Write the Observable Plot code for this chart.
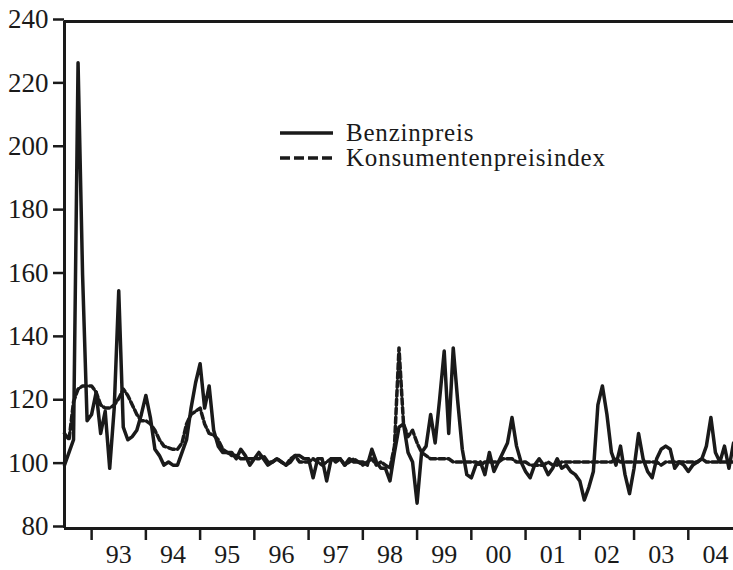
<!DOCTYPE html>
<html><head><meta charset="utf-8">
<script src="https://cdn.jsdelivr.net/npm/d3@7"></script>
<script src="https://cdn.jsdelivr.net/npm/@observablehq/plot@0.6"></script>
<style>
body{margin:0;background:#fff;}
#wrap{position:relative;width:733px;height:570px;font-family:"Liberation Serif",serif;color:#1a1a1a;}
#legend{position:absolute;left:0;top:0;pointer-events:none;}
</style></head><body><div id="wrap"></div>
<script>
// Monthly data from July 1992 to November 2004
const startYear = 1992, startMonth = 7;
const benzin = [
  100, 104, 108, 227, 160, 114,
  116, 123, 110, 117, 99, 118, 155, 112, 108, 109, 111, 116,
  122, 115, 105, 103, 100, 101, 100, 100, 104, 108, 118, 126,
  132, 118, 125, 111, 106, 104, 104, 104, 102, 105, 103, 100,
  102, 104, 102, 100, 101, 102, 101, 100, 101, 103, 103, 102,
  102, 96, 102, 102, 95, 102, 102, 102, 100, 102, 101, 101,
  101, 100, 105, 101, 99, 99, 95, 104, 112, 113, 104, 101,
  88, 104, 106, 116, 107, 121, 136, 110, 137, 120, 105, 97,
  96, 100, 101, 97, 104, 98, 101, 104, 107, 115, 106, 101,
  98, 96, 100, 102, 100, 97, 99, 102, 99, 100, 98, 97,
  95, 89, 93, 98, 119, 125, 116, 104, 100, 106, 97, 91,
  99, 110, 102, 98, 96, 102, 105, 106, 105, 99, 101, 100,
  98, 100, 101, 102, 106, 115, 104, 101, 106, 99, 107
];
const kpi = [
  110, 108, 120, 124, 125, 125,
  125, 123, 119, 118, 118, 119, 121, 124, 122, 119, 116, 114,
  114, 113, 111, 108, 106, 105.5, 105, 105, 107, 113, 116, 117,
  118, 113, 110, 109.5, 108, 105, 104, 103, 103, 102, 102, 102,
  102, 102, 103, 101, 101, 102, 101, 100, 102, 103, 101, 101,
  101, 102, 101, 100, 101, 102, 101, 102, 100, 101, 102, 101,
  100, 101, 102, 100, 101, 100, 99, 106, 137, 113, 109, 111,
  107, 104, 103, 102, 102, 102, 102, 102, 101, 101, 101, 101,
  101, 101, 100, 101, 101, 101, 101, 102, 102, 102, 101, 101,
  101, 100, 100, 100, 100, 101, 100, 100, 101, 101, 101, 101,
  101, 101, 101, 101, 101, 101, 101, 101, 102, 101, 101, 101,
  101, 101, 101, 101, 101, 101, 100, 101, 101, 101, 101, 101,
  101, 101, 101, 102, 101, 101, 101, 101, 101, 101, 101
];
const yearLabels = ["93","94","95","96","97","98","99","00","01","02","03","04"];
const firstLabelYear = 1993;
const yTicks = [80, 100, 120, 140, 160, 180, 200, 220, 240];
const seriesNames = ["Benzinpreis", "Konsumentenpreisindex"];

const data = benzin.map((v, i) => ({
  t: startYear + (startMonth - 1 + i) / 12,
  benzin: v,
  kpi: kpi[i]
}));
const years = yearLabels.map((_, i) => firstLabelYear + i);
const ink = "#1a1a1a";
const x0 = data[0].t, x1 = data[data.length - 1].t;

const chart = Plot.plot({
  width: 733, height: 570,
  marginLeft: 64, marginRight: 0, marginTop: 21, marginBottom: 42,
  style: {fontFamily: "Liberation Serif", fontSize: "26px", color: ink, background: "#fff", overflow: "visible"},
  x: {domain: [x0, x1], label: null},
  y: {domain: [yTicks[0], yTicks[yTicks.length - 1]], label: null},
  marks: [
    Plot.axisY({ticks: yTicks, label: null, tickSize: 11, tickPadding: 5, tickFormat: d => String(d), strokeWidth: 2.5, stroke: ink, fill: ink, fontSize: 27, dy: -2}),
    Plot.axisX({ticks: years, label: null, tickSize: 12, tickFormat: () => "", strokeWidth: 2.5, stroke: ink}),
    Plot.axisX({ticks: years.map(y => y + 0.5), label: null, tickSize: 0, tickPadding: 16, fontSize: 26, fill: ink,
      tickFormat: d => yearLabels[Math.round(d - 0.5) - firstLabelYear]}),
    Plot.ruleY([yTicks[0]], {stroke: ink, strokeWidth: 3}),
    Plot.ruleY([yTicks[yTicks.length - 1]], {stroke: ink, strokeWidth: 3}),
    Plot.ruleX([x0], {stroke: ink, strokeWidth: 3}),
    Plot.line(data, {x: "t", y: "kpi", stroke: ink, strokeWidth: 3.5, strokeDasharray: "6,3"}),
    Plot.line(data, {x: "t", y: "benzin", stroke: ink, strokeWidth: 3.5, strokeLinejoin: "round"})
  ]
});
const wrap = document.getElementById("wrap");
wrap.appendChild(chart);

// Legend overlay
const ns = "http://www.w3.org/2000/svg";
const leg = document.createElementNS(ns, "svg");
leg.setAttribute("id", "legend");
leg.setAttribute("width", 733);
leg.setAttribute("height", 570);
const rows = [
  {name: seriesNames[0], dash: null, ly: 133, ty: 141},
  {name: seriesNames[1], dash: "10,4", ly: 158, ty: 166}
];
rows.forEach(r => {
  const l = document.createElementNS(ns, "line");
  l.setAttribute("x1", 280); l.setAttribute("x2", 333);
  l.setAttribute("y1", r.ly); l.setAttribute("y2", r.ly);
  l.setAttribute("stroke", ink); l.setAttribute("stroke-width", 3.5);
  if (r.dash) l.setAttribute("stroke-dasharray", r.dash);
  leg.appendChild(l);
  const t = document.createElementNS(ns, "text");
  t.setAttribute("x", 346); t.setAttribute("y", r.ty);
  t.setAttribute("font-family", "Liberation Serif");
  t.setAttribute("font-size", 25);
  t.setAttribute("letter-spacing", "0.8");
  t.setAttribute("fill", ink);
  t.textContent = r.name;
  leg.appendChild(t);
});
wrap.appendChild(leg);
</script>
</body></html>
